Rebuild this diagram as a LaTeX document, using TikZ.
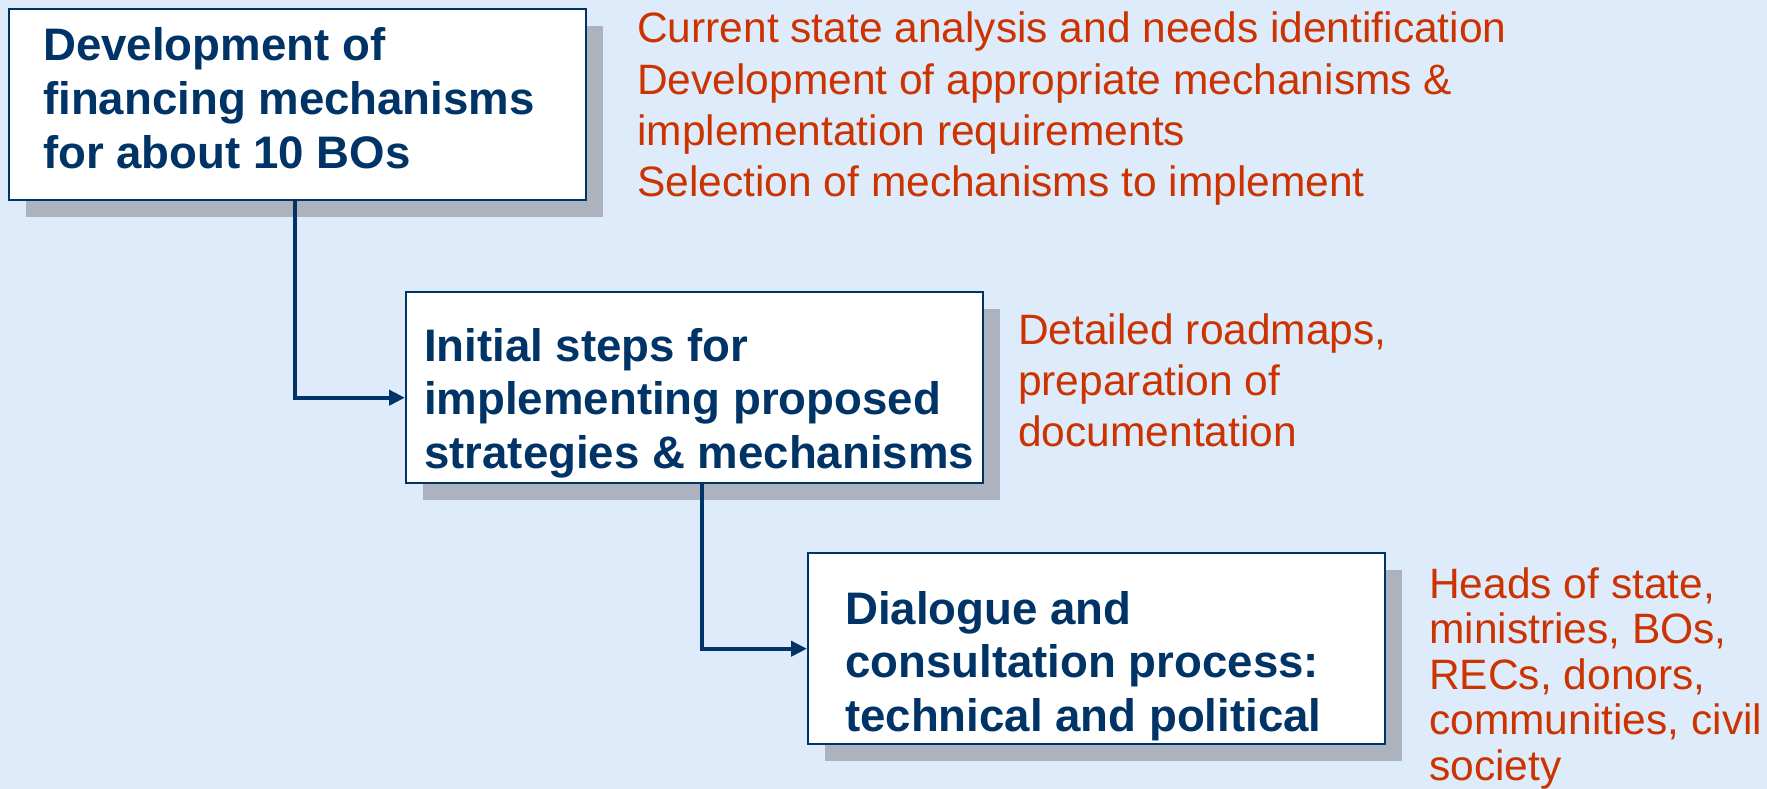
\documentclass[tikz,border=0pt]{standalone}
\usepackage{fontspec}
\setmainfont{Liberation Sans}
\usetikzlibrary{shadows,arrows.meta}
\definecolor{bgblue}{RGB}{221,235,250}
\definecolor{navy}{RGB}{0,51,102}
\definecolor{redtxt}{RGB}{204,51,0}
\definecolor{shadowgray}{RGB}{172,179,190}
\tikzset{
  box/.style={draw=navy, line width=2.4bp, fill=white, rectangle, inner sep=0pt,
    minimum width=577bp, minimum height=191bp, anchor=north west,
    drop shadow={shadow xshift=17bp, shadow yshift=-17bp, fill=shadowgray, opacity=1}},
  btext/.style={text=navy, align=left, inner sep=0pt, anchor=base west,
    font=\fontsize{45.6bp}{53.5bp}\selectfont\bfseries},
  rtext/.style={text=redtxt, align=left, inner sep=0pt, anchor=base west,
    font=\fontsize{42.5bp}{51bp}\selectfont},
  conn/.style={draw=navy, line width=4bp, -{Triangle[length=16bp,width=15bp]}}
}
\begin{document}
\begin{tikzpicture}[x=1bp,y=-1bp]
\useasboundingbox (0,0) rectangle (1767,789);
\fill[bgblue] (0,0) rectangle (1767,789);
\node[box] (b1) at (8,8) {};
\node[box] (b2) at (405,291) {};
\node[box] (b3) at (807,552) {};
\node[btext] (t1) at (43,168) {Development of\\financing mechanisms\\for about 10 BOs};
\node[btext] (t2) at (424,468) {Initial steps for\\implementing proposed\\strategies \& mechanisms};
\node[btext] (t3) at (845,731) {Dialogue and\\consultation process:\\technical and political};
\draw[conn] ([xshift=287bp]b1.south west) |- ([yshift=-10bp]b2.west);
\draw[conn] ([xshift=297bp]b2.south west) |- (b3.west);
\node[rtext] (r1) at (637,196) {Current state analysis and needs identification\\Development of appropriate mechanisms \&\\implementation requirements\\Selection of mechanisms to implement};
\node[rtext] (r2) at (1018,446) {Detailed roadmaps,\\preparation of\\documentation};
\node[rtext, font=\fontsize{42.5bp}{45.5bp}\selectfont] (r3) at (1429,780) {Heads of state,\\ministries, BOs,\\RECs, donors,\\communities, civil\\society};
\end{tikzpicture}
\end{document}
